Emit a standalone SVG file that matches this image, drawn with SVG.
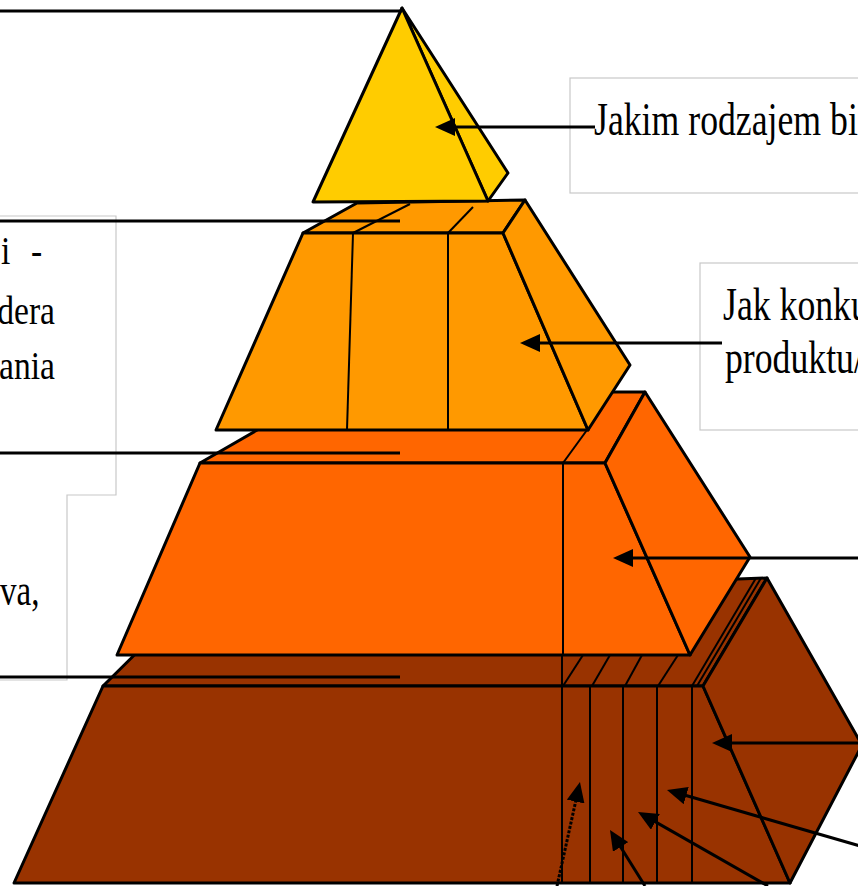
<svg xmlns="http://www.w3.org/2000/svg" width="858" height="886" viewBox="0 0 858 886">
<style>
.edge{stroke:#000;stroke-width:3;stroke-linejoin:round}
.y{fill:#FFCC00}.o1{fill:#FF9900}.o2{fill:#FF6600}.b{fill:#993300}
.in{stroke:#000;stroke-width:2;fill:none}
.lead{stroke:#000;stroke-width:3;fill:none}
.box{fill:none;stroke:#C8C8C8;stroke-width:1.2}
.t{font-family:"Liberation Serif","Times New Roman",serif;fill:#000}
</style>
<defs>
<marker id="ah" markerUnits="userSpaceOnUse" markerWidth="20" markerHeight="18" viewBox="0 0 20 18" refX="10" refY="9" orient="auto">
<path d="M0,0 L20,9 L0,18 z" fill="#000"/>
</marker>
</defs>
<g id="boxes">
<rect class="box" x="570" y="78" width="310" height="115"/>
<rect class="box" x="700" y="263" width="200" height="167"/>
<path class="box" d="M-2,216 H116 V495 H67 V680 H-2"/>
</g>
<g id="tier4">
<polygon class="b edge" points="103,686 190,600 767,578 703,686"/>
<polygon class="b edge" points="103,686 703,686 790,883 14,883"/>
<polygon class="b edge" points="703,686 767,578 862,745 790,883"/>
<line class="in" x1="562" y1="655" x2="562" y2="883"/>
<line class="in" x1="590" y1="686" x2="590" y2="883"/>
<line class="in" x1="623" y1="686" x2="623" y2="883"/>
<line class="in" x1="657" y1="686" x2="657" y2="883"/>
<line class="in" x1="692" y1="686" x2="692" y2="883"/>
<line class="in" x1="563" y1="686" x2="583" y2="655"/>
<line class="in" x1="592" y1="686" x2="610" y2="655"/>
<line class="in" x1="625" y1="686" x2="642" y2="655"/>
<line class="in" x1="658" y1="686" x2="678" y2="655"/>
<line class="in" x1="692" y1="686" x2="756" y2="578"/>
<line class="in" x1="697" y1="686" x2="761" y2="578"/>
</g>
<g id="tier3">
<polygon class="o2 edge" points="200,463 323,392 645,392 605,463"/>
<polygon class="o2 edge" points="200,463 605,463 690,655 117,655"/>
<polygon class="o2 edge" points="605,463 645,392 750,557 690,655"/>
<line class="in" x1="563" y1="463" x2="563" y2="655"/>
<line class="in" x1="563" y1="463" x2="587" y2="430"/>
</g>
<g id="tier2">
<polygon class="o1 edge" points="303,233 357,203 525,200 503,233"/>
<polygon class="o1 edge" points="303,233 503,233 588,430 216,430"/>
<polygon class="o1 edge" points="503,233 525,200 630,365 588,430"/>
<line class="in" x1="353" y1="233" x2="347" y2="430"/>
<line class="in" x1="448" y1="233" x2="448" y2="430"/>
<line class="in" x1="353" y1="233" x2="410" y2="204"/>
<line class="in" x1="448" y1="233" x2="473" y2="207"/>
</g>
<g id="tier1">
<polygon class="y edge" points="402,8 508,173 488,201"/>
<polygon class="y edge" points="402,8 313,202 488,201"/>
</g>
<g id="connectors">
<line class="lead" x1="0" y1="11" x2="402" y2="11"/>
<line class="lead" x1="0" y1="221" x2="400" y2="221"/>
<line class="lead" x1="0" y1="453" x2="400" y2="453"/>
<line class="lead" x1="0" y1="677" x2="400" y2="677"/>
<line class="lead" x1="595" y1="127" x2="445" y2="127" marker-end="url(#ah)"/>
<line class="lead" x1="722" y1="343" x2="530" y2="343" marker-end="url(#ah)"/>
<line class="lead" x1="860" y1="558" x2="623" y2="558" marker-end="url(#ah)"/>
<line class="lead" x1="860" y1="743" x2="722" y2="743" marker-end="url(#ah)"/>
<line class="lead" x1="860" y1="846" x2="676.6" y2="792.8" marker-end="url(#ah)"/>
<line class="lead" x1="768" y1="886" x2="646.7" y2="816.9" stroke-width="4" marker-end="url(#ah)"/>
<line class="lead" x1="645" y1="886" x2="615.3" y2="838.5" marker-end="url(#ah)"/>
<line class="lead" x1="557" y1="886" x2="577.8" y2="791.8" stroke-width="2.5" stroke-dasharray="3,1.5" marker-end="url(#ah)"/>
</g>
<g id="labels">
<text class="t" font-size="47" transform="translate(594,135) scale(0.76,1)">Jakim rodzajem bi</text>
<text class="t" font-size="47" transform="translate(723,320) scale(0.76,1)">Jak konku</text>
<text class="t" font-size="47" transform="translate(725,373) scale(0.76,1)">produktu/</text>
<text class="t" font-size="40" transform="translate(1,264) scale(0.84,1)">i</text>
<text class="t" font-size="40" transform="translate(31,264) scale(0.84,1)">-</text>
<text class="t" font-size="40" text-anchor="end" transform="translate(55,324) scale(0.84,1)">dera</text>
<text class="t" font-size="40" text-anchor="end" transform="translate(55,379) scale(0.84,1)">ania</text>
<text class="t" font-size="44" transform="translate(0,605) scale(0.75,1)">va,</text>
</g>
</svg>
